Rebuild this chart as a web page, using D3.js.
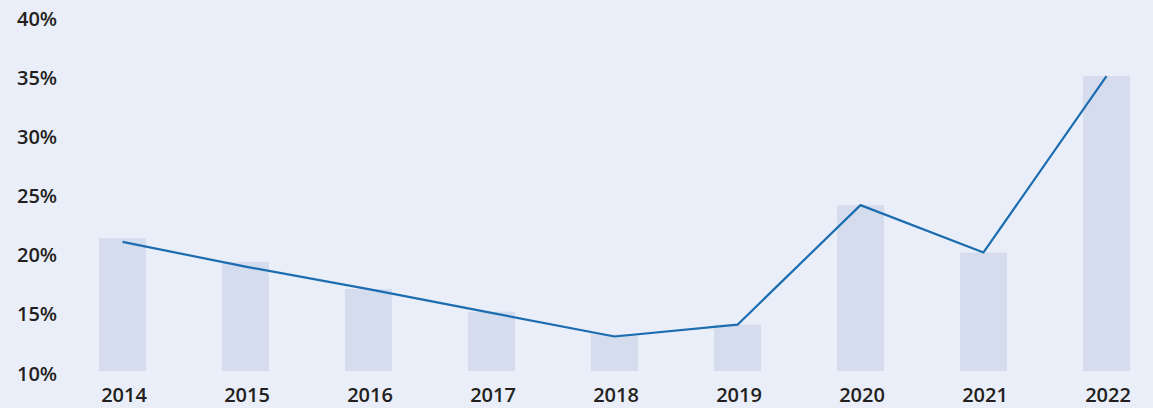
<!DOCTYPE html>
<html>
<head>
<meta charset="utf-8">
<script src="https://cdn.jsdelivr.net/npm/d3@7"></script>
<style>
  body { margin: 0; background: #eaeef8; }
  svg text { font-family: "Open Sans", sans-serif; font-weight: 600; fill: #231f20; }
</style>
</head>
<body>
<svg id="chart" width="1153" height="408"></svg>
<script>
// data
var years = ["2014", "2015", "2016", "2017", "2018", "2019", "2020", "2021", "2022"];
var barValues = [21.3, 19.3, 17.0, 15.1, 13.2, 14.0, 24.1, 20.1, 35.0];
var lineValues = [21.0, 18.9, 17.0, 15.0, 13.0, 14.0, 24.1, 20.1, 35.0];
var yTicks = [10, 15, 20, 25, 30, 35, 40];

var svg = d3.select("#chart");
var barWidth = 47;

var x = d3.scalePoint()
    .domain(years)
    .range([122.5, 1106.5]);

var y = d3.scaleLinear()
    .domain([10, 40])
    .range([372, 17]);

// bars
svg.selectAll(".bar")
    .data(years)
    .join("rect")
    .attr("class", "bar")
    .attr("x", d => x(d) - barWidth / 2)
    .attr("width", barWidth)
    .attr("y", (d, i) => y(barValues[i]))
    .attr("height", (d, i) => y(10) - 1 - y(barValues[i]))
    .attr("fill", "#d5dcee");

// line
var line = d3.line()
    .x((d, i) => x(years[i]))
    .y(d => y(d));

svg.append("path")
    .datum(lineValues)
    .attr("d", line)
    .attr("fill", "none")
    .attr("stroke", "#1b6db0")
    .attr("stroke-width", 2.2)
    .attr("stroke-linejoin", "round");

// y labels
svg.selectAll(".ylab")
    .data(yTicks)
    .join("text")
    .attr("class", "ylab")
    .attr("x", 17)
    .attr("y", d => y(d) + 1.5)
    .attr("dy", "0.35em")
    .attr("font-size", 20)
    .text(d => d + "%");

// x labels
svg.selectAll(".xlab")
    .data(years)
    .join("text")
    .attr("class", "xlab")
    .attr("x", d => x(d) + 1.5)
    .attr("y", 402)
    .attr("text-anchor", "middle")
    .attr("font-size", 20)
    .text(d => d);
</script>
</body>
</html>
